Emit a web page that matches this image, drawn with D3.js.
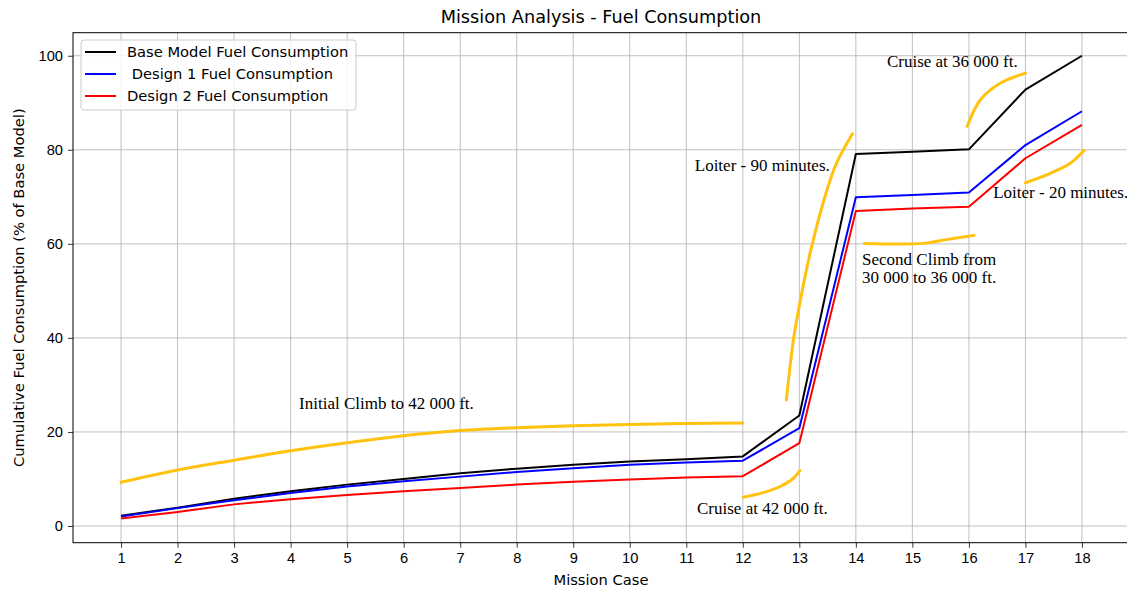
<!DOCTYPE html>
<html>
<head>
<meta charset="utf-8">
<script src="https://cdn.jsdelivr.net/npm/d3@7"></script>
<style>
  body { margin: 0; background: #fff; }
  svg { display: block; font-family: "DejaVu Sans", sans-serif; }
  .grid line { stroke: #b0b0b0; stroke-width: 0.8; }
  .axis text { font-size: 14.7px; fill: #000; }
  .axis line { stroke: #000; stroke-width: 0.8; }
  .note { font-family: "Liberation Serif", "Times New Roman", serif; font-size: 17px; fill: #000; }
</style>
</head>
<body>
<div id="chart"></div>
<script>
const missionCase = [1, 2, 3, 4, 5, 6, 7, 8, 9, 10, 11, 12, 13, 14, 15, 16, 17, 18];
const baseModel = [2.2, 3.9, 5.8, 7.4, 8.8, 10.0, 11.2, 12.2, 13.0, 13.7, 14.2, 14.8, 23.5, 79.1, 79.6, 80.1, 92.8, 100];
const design1 = [2.0, 3.8, 5.5, 7.0, 8.4, 9.5, 10.5, 11.5, 12.3, 13.0, 13.5, 13.9, 20.8, 69.9, 70.4, 70.9, 81.0, 88.2];
const design2 = [1.6, 3.0, 4.6, 5.7, 6.6, 7.4, 8.1, 8.8, 9.4, 9.9, 10.3, 10.6, 17.6, 67.0, 67.5, 67.9, 78.2, 85.3];
const yTicks = [0, 20, 40, 60, 80, 100];

// hand-drawn highlighter strokes (data coordinates)
const climbStroke = [[1, 9.3], [2, 11.9], [3, 14.0], [4, 16.0], [5, 17.7], [6, 19.2], [7, 20.3], [8, 20.9], [9, 21.3], [10, 21.6], [11, 21.8], [12, 21.9]];
const cruise42Stroke = [[12.01, 6.1], [12.36, 7.1], [12.66, 8.4], [12.89, 10.1], [13.01, 11.8]];
const loiter90Stroke = [[12.77, 26.8], [12.9, 40.0], [13.02, 48.1], [13.2, 58.5], [13.49, 71.5], [13.66, 77.2], [13.94, 83.4]];
const climb2Stroke = [[14.15, 60.1], [15.2, 60.1], [15.6, 60.9], [16.09, 61.8]];
const cruise36Stroke = [[15.97, 85.0], [16.2, 90.6], [16.56, 94.2], [17.0, 96.3]];
const loiter20Stroke = [[17.0, 73.0], [17.44, 75.0], [17.8, 77.2], [18.04, 79.9]];

const noteText = ["Initial Climb to 42 000 ft.", "Cruise at 42 000 ft.", "Loiter - 90 minutes.", "Second Climb from", "30 000 to 36 000 ft.", "Cruise at 36 000 ft.", "Loiter - 20 minutes."];
const noteX = [4.15, 11.19, 11.15, 14.11, 14.11, 14.55, 16.43];
const noteY = [24.9, 2.55, 75.5, 55.5, 51.7, 97.7, 69.8];

const series = [
  {name: "Base Model Fuel Consumption", values: baseModel, color: "#000000"},
  {name: " Design 1 Fuel Consumption", values: design1, color: "#0000ff"},
  {name: "Design 2 Fuel Consumption", values: design2, color: "#ff0000"}
];

const W = 1127, H = 589;
const plotLeft = 73, plotRight = 1130, plotTop = 32.7, plotBottom = 542.7;

const svg = d3.select("#chart").append("svg")
    .attr("width", W).attr("height", H);

const x = d3.scaleLinear().domain([0.15, 18.85]).range([plotLeft, plotRight]);
const y = d3.scaleLinear().domain([-3.55, 104.9]).range([plotBottom, plotTop]);

// grid
const grid = svg.append("g").attr("class", "grid");
grid.selectAll(".gx").data(missionCase).join("line")
    .attr("class", "gx")
    .attr("x1", d => x(d)).attr("x2", d => x(d))
    .attr("y1", plotTop).attr("y2", plotBottom);
grid.selectAll(".gy").data(yTicks).join("line")
    .attr("class", "gy")
    .attr("x1", plotLeft).attr("x2", plotRight)
    .attr("y1", d => y(d)).attr("y2", d => y(d));

// highlighter strokes
const strokeLine = d3.line()
    .x(d => x(d[0])).y(d => y(d[1]))
    .curve(d3.curveCatmullRom);

[climbStroke, cruise42Stroke, loiter90Stroke, climb2Stroke, cruise36Stroke, loiter20Stroke].forEach(s => {
  svg.append("path")
      .attr("d", strokeLine(s))
      .attr("fill", "none")
      .attr("stroke", "#ffc20e")
      .attr("stroke-width", 3)
      .attr("stroke-linecap", "round");
});

// data lines
series.forEach(s => {
  const line = d3.line()
      .x((d, i) => x(missionCase[i]))
      .y(d => y(d));
  svg.append("path")
      .attr("d", line(s.values))
      .attr("fill", "none")
      .attr("stroke", s.color)
      .attr("stroke-width", 2)
      .attr("stroke-linejoin", "round");
});

// notes
svg.selectAll(".note").data(noteText).join("text")
    .attr("class", "note")
    .attr("x", (d, i) => x(noteX[i]))
    .attr("y", (d, i) => y(noteY[i]))
    .text(d => d);

// axes
svg.append("g")
    .attr("class", "axis")
    .attr("transform", "translate(0," + plotBottom + ")")
    .call(d3.axisBottom(x).tickValues(missionCase).tickFormat(d3.format("d")).tickSize(5).tickPadding(5))
    .call(g => g.select(".domain").remove());

svg.append("g")
    .attr("class", "axis")
    .attr("transform", "translate(" + plotLeft + ",0)")
    .call(d3.axisLeft(y).tickValues(yTicks).tickFormat(d3.format("d")).tickSize(5).tickPadding(5))
    .call(g => g.select(".domain").remove());

// spines
svg.append("rect")
    .attr("x", plotLeft).attr("y", plotTop)
    .attr("width", plotRight - plotLeft).attr("height", plotBottom - plotTop)
    .attr("fill", "none")
    .attr("stroke", "#000")
    .attr("stroke-width", 1);

// labels
svg.append("text")
    .attr("x", 601).attr("y", 23)
    .attr("text-anchor", "middle")
    .attr("font-size", "17.7px")
    .text("Mission Analysis - Fuel Consumption");

svg.append("text")
    .attr("x", 601).attr("y", 585)
    .attr("text-anchor", "middle")
    .attr("font-size", "14.7px")
    .text("Mission Case");

svg.append("text")
    .attr("transform", "translate(24," + ((plotTop + plotBottom) / 2) + ") rotate(-90)")
    .attr("text-anchor", "middle")
    .attr("font-size", "14.7px")
    .text("Cumulative Fuel Consumption (% of Base Model)");

// legend
const legend = svg.append("g").attr("transform", "translate(81,40)");
legend.append("rect")
    .attr("width", 275).attr("height", 70)
    .attr("rx", 3)
    .attr("fill", "#fff").attr("fill-opacity", 0.8)
    .attr("stroke", "#cccccc").attr("stroke-width", 1);

const rows = legend.selectAll(".row").data(series).join("g")
    .attr("class", "row")
    .attr("transform", (d, i) => "translate(0," + (12 + i * 22) + ")");
rows.append("line")
    .attr("x1", 4).attr("x2", 35)
    .attr("stroke", d => d.color).attr("stroke-width", 2);
rows.append("text")
    .attr("x", 46).attr("y", 5)
    .attr("font-size", "14.7px")
    .style("white-space", "pre")
    .text(d => d.name);
</script>
</body>
</html>
